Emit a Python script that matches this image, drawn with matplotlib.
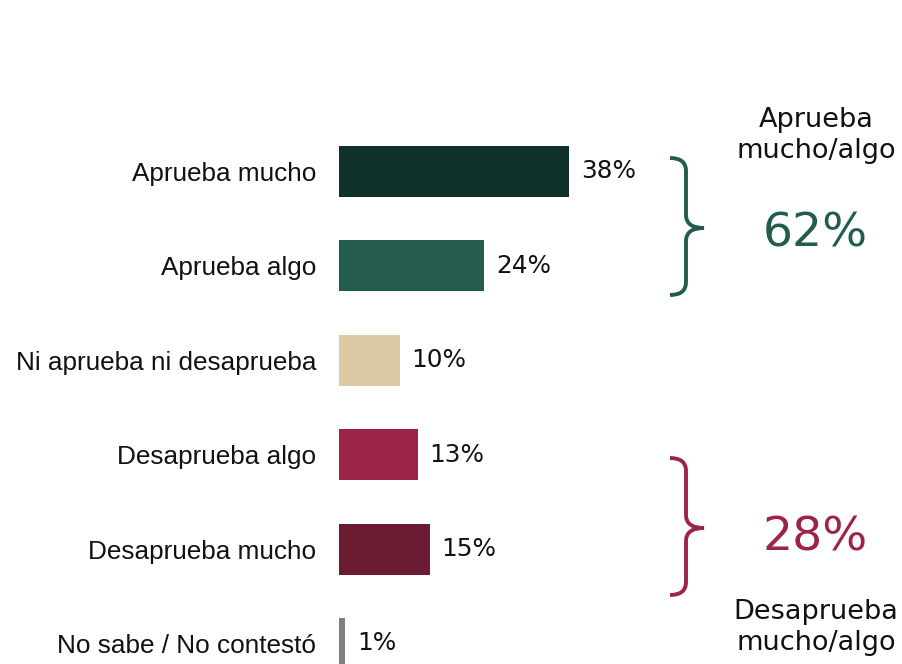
import matplotlib.pyplot as plt
from matplotlib.path import Path
from matplotlib.patches import PathPatch
from matplotlib.transforms import Affine2D

# --- datos ---
categorias = ["Aprueba mucho", "Aprueba algo", "Ni aprueba ni desaprueba",
              "Desaprueba algo", "Desaprueba mucho", "No sabe / No contestó"]
valores = [38, 24, 10, 13, 15, 1]
colores = ["#10312B", "#235B4E", "#DDC9A3", "#9D2449", "#691C32", "#7F7F7F"]

total_aprueba = "62%"
total_desaprueba = "28%"

VERDE = "#235B4E"
ROJO = "#9D2449"
FUENTE = "DejaVu Sans"

W, H = 903, 664
fig = plt.figure(figsize=(W / 100, H / 100), dpi=100, facecolor="white")

# ejes: x=0 en el pixel 339, ~6.05 px por punto porcentual
x0_px = 339
ax = fig.add_axes([x0_px / W, 0, 1 - x0_px / W, 1])
px_por_pct = 6.05
ax.set_xlim(0, (W - x0_px) / px_por_pct)
paso = 94.4
centro0 = 171.5
ax.set_ylim((H - centro0) / paso, -centro0 / paso)

pos = range(len(categorias))
ax.barh(pos, valores, height=51 / paso, color=colores)

for i, v in zip(pos, valores):
    ax.annotate(f"{v}%", (v, i), xytext=(8.6, 0), textcoords="offset points",
                va="center", ha="left", fontsize=17.8, family=FUENTE, color="#111111")

ax.set_yticks(list(pos))
ax.set_yticklabels(categorias, fontsize=18.8, family="Liberation Sans", color="#111111")
ax.tick_params(axis="y", length=0, pad=16.5)
ax.set_xticks([])
for s in ax.spines.values():
    s.set_visible(False)
ax.patch.set_alpha(0)


# --- llaves ---
def llave(y_top, y_mid, y_bot, color, x_ext=670, x_v=686, x_t=704, r=13):
    verts = [(x_ext, y_top), (x_v, y_top), (x_v, y_top + r),
             (x_v, y_mid - r), (x_v, y_mid), (x_t, y_mid),
             (x_v, y_mid), (x_v, y_mid + r),
             (x_v, y_bot - r), (x_v, y_bot), (x_ext, y_bot)]
    codes = [Path.MOVETO, Path.CURVE3, Path.CURVE3,
             Path.LINETO, Path.CURVE3, Path.CURVE3,
             Path.CURVE3, Path.CURVE3,
             Path.LINETO, Path.CURVE3, Path.CURVE3]
    tr = Affine2D().scale(1 / W, -1 / H).translate(0, 1) + fig.transFigure
    fig.patches.append(PathPatch(Path(verts, codes), fill=False, edgecolor=color,
                                 linewidth=2.8, capstyle="butt", transform=tr))


llave(158, 228, 295, VERDE)
llave(458, 528, 595, ROJO)

# --- textos de resumen ---
def txt(x, y, s, **kw):
    fig.text(x / W, 1 - y / H, s, ha="center", va="center", family=FUENTE, **kw)


txt(816, 120, "Aprueba", fontsize=19.5, color="#111111")
txt(816, 151, "mucho/algo", fontsize=19.5, color="#111111")
txt(815, 234, total_aprueba, fontsize=34, color=VERDE)
txt(815, 538, total_desaprueba, fontsize=34, color=ROJO)
txt(816, 612, "Desaprueba", fontsize=19.5, color="#111111")
txt(816, 643, "mucho/algo", fontsize=19.5, color="#111111")

fig.savefig("out.png", dpi=100, facecolor="white")
